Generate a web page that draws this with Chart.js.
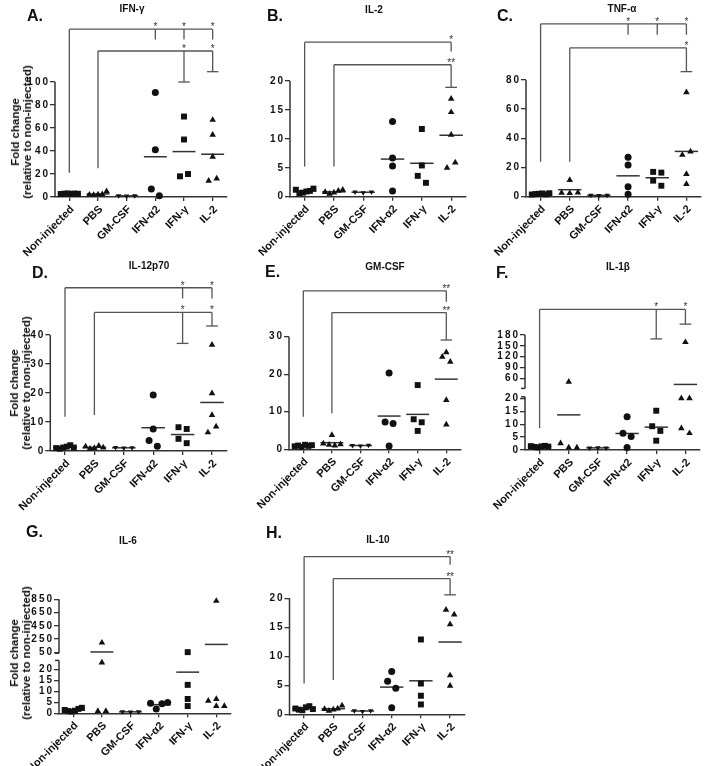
<!DOCTYPE html>
<html>
<head>
<meta charset="utf-8">
<script src="https://cdn.jsdelivr.net/npm/chart.js@4.4.1/dist/chart.umd.min.js"></script>
<style>
    body { margin: 0; width: 717px; height: 766px; position: relative; overflow: hidden; background: #fff;
           font-family: "Liberation Sans", Arial, sans-serif; color: #111; }
    canvas { position: absolute; }
    .letter { position: absolute; font-weight: bold; font-size: 16px; line-height: 16px; }
    .title { position: absolute; font-weight: bold; font-size: 10px; white-space: nowrap; transform: translate(-50%, -50%); }
    .ytitle { position: absolute; font-weight: bold; font-size: 11.5px; line-height: 12px; text-align: center;
              white-space: nowrap; transform: translate(-50%, -50%) rotate(-90deg); }
</style>
</head>
<body>
<script>
"use strict"

var FONT = '"Liberation Sans", Arial, sans-serif';
var X_AXIS_H = 62;

// groups on the x axis (same in every panel)
var groups = ['Non-injected', 'PBS', 'GM-CSF', 'IFN-α2', 'IFN-γ', 'IL-2'];
var markers = ['rect', 'triangle', 'triangleDown', 'circle', 'rect', 'triangle'];
var markerSize = [4.2, 3.8, 3.0, 3.5, 4.2, 3.8];

// A. IFN-γ
var ifngVals = [
    [2.6, 2.9, 3.1, 2.7, 3.0, 2.8],
    [2.0, 1.8, 2.2, 2.4, 5.0],
    [1.0, 0.9, 1.1],
    [91, 41, 7, 1],
    [70, 50, 18, 20],
    [67, 54, 35, 14, 16]
];
var ifngTicks = [0, 20, 40, 60, 80, 100];
var ifngSig = [
    { from: 0, level: 146, foot: 21, arms: [[3, 137, '*'], [4, 137, '*'], [5, 137, '*']] },
    { from: 1, level: 127, foot: 25, cap: true, arms: [[4, 100, '*'], [5, 109, '*']] }
];

// B. IL-2
var il2Vals = [
    [1.2, 0.6, 0.7, 0.9, 1.0, 1.4],
    [0.8, 0.5, 0.7, 1.0, 1.2],
    [0.8, 0.7, 0.8],
    [13.0, 6.7, 5.3, 1.0],
    [11.7, 5.4, 3.6, 2.4],
    [16.9, 14.6, 10.7, 5.0, 5.9]
];
var il2Ticks = [0, 5, 10, 15, 20];
var il2Sig = [
    { from: 0, level: 26.7, foot: 5.2, arms: [[5, 25.1, '*']] },
    { from: 1, level: 22.8, foot: 5.2, cap: true, arms: [[5, 18.9, '**']] }
];

// C. TNF-α
var tnfVals = [
    [1.5, 1.8, 2.0, 2.2, 1.6, 2.4],
    [11.4, 2.6, 2.4, 2.8],
    [1.0, 0.8, 1.0],
    [27, 21.7, 6.9, 1.6],
    [17, 16.5, 11, 7.5],
    [71.5, 28.6, 30.9, 15.5, 8.7]
];
var tnfTicks = [0, 20, 40, 60, 80];
var tnfSig = [
    { from: 0, level: 118.4, foot: 24, arms: [[3, 111, '*'], [4, 111, '*'], [5, 111, '*']] },
    { from: 1, level: 102, foot: 24, cap: true, arms: [[5, 85.7, '*']] }
];

// D. IL-12p70
var il12Vals = [
    [1.0, 0.8, 1.2, 1.5, 2.0, 1.2],
    [1.5, 0.8, 1.0, 1.8, 1.2],
    [1.2, 1.0, 1.1],
    [19.3, 7.6, 3.6, 1.6],
    [8.2, 7.6, 4.2, 2.7],
    [36.6, 19.9, 12.4, 6.4, 8.4]
];
var il12Ticks = [0, 10, 20, 30, 40];
var il12Sig = [
    { from: 0, level: 56.3, foot: 11.8, arms: [[4, 52.6, '*'], [5, 52.6, '*']] },
    { from: 1, level: 47.8, foot: 12.4, cap: true, arms: [[4, 37.1, '*'], [5, 43.1, '*']] }
];

// E. GM-CSF
var gmcsfVals = [
    [0.8, 1.0, 0.6, 1.2, 0.9, 1.1],
    [3.8, 1.5, 1.2, 1.0, 1.3],
    [1.0, 0.9, 1.1],
    [20.3, 7.3, 6.9, 0.9],
    [17.1, 8.0, 7.2, 4.9],
    [25.8, 24.6, 23.3, 13.1, 6.6]
];
var gmcsfTicks = [0, 10, 20, 30];
var gmcsfSig = [
    { from: 0, level: 42.2, foot: 8.7, arms: [[5, 39.3, '**']] },
    { from: 1, level: 36.4, foot: 9.6, cap: true, arms: [[5, 29.1, '**']] }
];

// F. IL-1β (broken axis)
var il1bVals = [
    [1.5, 1.2, 1.0, 1.4, 1.6, 1.3],
    [50, 2.6, 0.9, 0.9],
    [0.8, 0.9, 0.8],
    [12.9, 6.5, 5.2, 1.0],
    [15.2, 9.2, 7.4, 3.6],
    [160, 20, 20, 8.4, 6.5]
];
var il1bTicksLow = [0, 5, 10, 15, 20];
var il1bTicksHigh = [60, 90, 120, 150, 180];
var il1bSig = [
    { from: 0, level: 251, foot: 8.4, cap: true, arms: [[4, 169, '*'], [5, 210, '*']] }
];

// G. IL-6 (broken axis)
var il6Vals = [
    [1.5, 1.0, 0.8, 1.2, 2.0, 2.5],
    [195, 23, 1.0, 1.0],
    [0.7, 0.6, 0.7],
    [4.6, 1.9, 4.3, 4.9],
    [52, 12.9, 6.5, 3.3],
    [825, 5.7, 6.5, 3.3, 3.3]
];
var il6TicksLow = [0, 5, 10, 15, 20];
var il6TicksHigh = [50, 250, 450, 650, 850];

// H. IL-10
var il10Vals = [
    [1.0, 0.8, 0.7, 1.2, 1.4, 0.9],
    [0.9, 0.6, 0.8, 1.0, 1.5],
    [0.6, 0.5, 0.6],
    [7.4, 5.7, 4.5, 1.15],
    [12.9, 5.3, 3.2, 1.7],
    [18.0, 17.2, 15.5, 6.7, 4.9]
];
var il10Ticks = [0, 5, 10, 15, 20];
var il10Sig = [
    { from: 0, level: 27.2, foot: 5.3, arms: [[5, 25.8, '**']] },
    { from: 1, level: 23.4, foot: 5.9, cap: true, arms: [[5, 20.6, '**']] }
];

var yTitle = ['Fold change', '(relative to non-injected)'];

// panel layout: box = canvas [x, y, w, h], area = plot [left, top, right, bottom] in page px
var panels = [
    { letter: 'A.', title: 'IFN-γ', vals: ifngVals, sig: ifngSig,
      y: { min: 0, max: 155, ticks: ifngTicks, line: [0, 100] },
      box: [0, 0, 235, 280], area: [55, 18.8, 227, 197],
      letterAt: [27, 8], titleAt: [132, 8], yTitleAt: [21, 132] },
    { letter: 'B.', title: 'IL-2', vals: il2Vals, sig: il2Sig,
      y: { min: 0, max: 30, ticks: il2Ticks, line: [0, 20] },
      box: [235, 0, 235, 280], area: [290, 23.1, 466, 196.7],
      letterAt: [267, 8], titleAt: [374, 9] },
    { letter: 'C.', title: 'TNF-α', vals: tnfVals, sig: tnfSig,
      y: { min: 0, max: 128, ticks: tnfTicks, line: [0, 80] },
      box: [470, 0, 247, 280], area: [526, 9.9, 701, 196.7],
      letterAt: [497, 8], titleAt: [622, 8] },
    { letter: 'D.', title: 'IL-12p70', vals: il12Vals, sig: il12Sig,
      y: { min: 0, max: 62, ticks: il12Ticks, line: [0, 40] },
      box: [0, 255, 235, 280], area: [50.3, 271.2, 226.7, 451],
      letterAt: [32, 265], titleAt: [149, 265], yTitleAt: [19.5, 383] },
    { letter: 'E.', title: 'GM-CSF', vals: gmcsfVals, sig: gmcsfSig,
      y: { min: 0, max: 47, ticks: gmcsfTicks, line: [0, 30] },
      box: [235, 255, 235, 280], area: [289, 272.8, 460.6, 449.3],
      letterAt: [265, 264], titleAt: [385, 266] },
    { letter: 'F.', title: 'IL-1β', vals: il1bVals, sig: il1bSig,
      y: { min: 0, max: 22.45, ticks: il1bTicksLow, line: [0, 20.6], brk: 20.6 },
      y2: { min: 22, max: 282.4, ticks: il1bTicksHigh, line: [32, 180], brk: 32 },
      weights: [58, 94],
      box: [470, 255, 247, 280], area: [525, 298, 700, 450],
      letterAt: [496, 265], titleAt: [618, 266] },
    { letter: 'G.', title: 'IL-6', vals: il6Vals, sig: [],
      y: { min: 0, max: 26, ticks: il6TicksLow, line: [0, 24], brk: 24 },
      y2: { min: -6, max: 900, ticks: il6TicksHigh, line: [35, 850], brk: 35 },
      weights: [57.3, 60],
      box: [0, 510, 235, 280], area: [59, 596, 230.6, 713.3],
      letterAt: [26, 524], titleAt: [128, 540], yTitleAt: [19.5, 653] },
    { letter: 'H.', title: 'IL-10', vals: il10Vals, sig: il10Sig,
      y: { min: 0, max: 31, ticks: il10Ticks, line: [0, 20] },
      box: [235, 510, 235, 280], area: [289.5, 534.5, 464.7, 714.3],
      letterAt: [266, 525], titleAt: [378, 539] }
];


// y axis line only over the tick range, plus break marks
var axisLinePlugin = {
    id: 'axisLine',
    afterDraw: function(chart, args, opts) {
        var ctx = chart.ctx;
        var x = chart.chartArea.left;
        ctx.save();
        ctx.strokeStyle = '#333';
        ctx.lineWidth = 1.5;
        (opts.parts || []).forEach(function(part) {
            var s = chart.scales[part.axis];
            ctx.beginPath();
            ctx.moveTo(x, s.getPixelForValue(part.line[0]));
            ctx.lineTo(x, s.getPixelForValue(part.line[1]));
            ctx.stroke();
            if (part.brk !== undefined) {
                var yb = s.getPixelForValue(part.brk);
                ctx.beginPath();
                ctx.moveTo(x - 4, yb);
                ctx.lineTo(x, yb);
                ctx.stroke();
            }
        });
        ctx.restore();
    }
};

// significance stars above bracket arms
var starPlugin = {
    id: 'stars',
    afterDatasetsDraw: function(chart, args, opts) {
        var ctx = chart.ctx;
        ctx.save();
        ctx.fillStyle = '#333';
        ctx.font = '10px ' + FONT;
        ctx.textAlign = 'center';
        ctx.textBaseline = 'alphabetic';
        (opts.marks || []).forEach(function(m) {
            var px = chart.scales.x.getPixelForValue(m.x);
            var py = chart.scales[m.axis].getPixelForValue(m.y);
            ctx.fillText(m.text, px, py + 1);
        });
        ctx.restore();
    }
};

// letter spaced y tick numbers
var spacedTicks = {
    id: 'spacedTicks',
    afterLayout: function(chart) {
        Object.keys(chart.scales).forEach(function(id) {
            var s = chart.scales[id];
            if (s.axis !== 'y' || s._spaced) return;
            var draw = s.drawLabels;
            s.drawLabels = function(area) {
                this.ctx.save();
                this.ctx.letterSpacing = '2px';
                draw.call(this, area);
                this.ctx.restore();
            };
            s._spaced = true;
        });
    }
};


function mean(a) {
    return a.reduce(function(s, v) { return s + v; }, 0) / a.length;
}

function line(pairs, axis, color, width) {
    return {
        showLine: true,
        data: pairs.map(function(q) { return { x: q[0], y: q[1] }; }),
        yAxisID: axis,
        borderColor: color || '#555',
        borderWidth: width || 1.3,
        pointRadius: 0,
        clip: false
    };
}

function yAxis(seg, extra) {
    var o = {
        type: 'linear', position: 'left', min: seg.min, max: seg.max,
        afterBuildTicks: function(s) { s.ticks = seg.ticks.map(function(v) { return { value: v }; }); },
        afterFit: function(s) { s.width = 30; s.paddingTop = 0; s.paddingBottom = 0; },
        ticks: { autoSkip: false, padding: 0, color: '#111', font: { family: FONT, size: 10, weight: 'bold' } },
        grid: { drawOnChartArea: false, tickLength: 5, color: '#333', lineWidth: 1.3 },
        border: { display: false }
    };
    return Object.assign(o, extra || {});
}

// spread overlapping points of a group side by side
function spreadPoints(chart, pts) {
    pts.forEach(function(list, g) {
        var items = list.map(function(p, i) {
            return { p: p, i: i, py: chart.scales[p.yAxis].getPixelForValue(p.y) };
        });
        items.sort(function(a, b) { return b.py - a.py; });
        var rows = [];
        items.forEach(function(it) {
            var row = rows[rows.length - 1];
            if (row && Math.abs(row[0].py - it.py) < 7) row.push(it);
            else rows.push([it]);
        });
        rows.forEach(function(row) {
            row.sort(function(a, b) { return a.i - b.i; });
            var step = row.length > 1 ? Math.min(0.28, 0.6 / (row.length - 1)) : 0;
            row.forEach(function(it, k) { it.p.x = g + (k - (row.length - 1) / 2) * step; });
        });
    });
    chart.data.datasets.forEach(function(ds) {
        if (ds.isPoints) ds.data = ds.data.slice();
    });
    chart.update('none');
}

function addText(cls, text, x, y) {
    var d = document.createElement('div');
    d.className = cls;
    d.style.left = x + 'px';
    d.style.top = y + 'px';
    if (Array.isArray(text)) d.innerHTML = text.join('<br>');
    else d.textContent = text;
    document.body.appendChild(d);
}

function buildPanel(p) {
    var canvas = document.createElement('canvas');
    canvas.width = p.box[2];
    canvas.height = p.box[3];
    canvas.style.left = p.box[0] + 'px';
    canvas.style.top = p.box[1] + 'px';
    document.body.appendChild(canvas);

    var split = p.y2 ? p.y.max : Infinity;
    function axisOf(v) { return v > split ? 'y2' : 'y'; }

    var datasets = [];
    var marks = [];

    // vertical leg that may cross the axis break
    function leg(x, top, bottom) {
        if (axisOf(top) === axisOf(bottom)) {
            datasets.push(line([[x, top], [x, bottom]], axisOf(top)));
        } else {
            datasets.push(line([[x, top], [x, p.y2.min]], 'y2'));
            datasets.push(line([[x, p.y.max], [x, bottom]], 'y'));
        }
    }

    var pts = p.vals.map(function(vals, g) {
        return vals.map(function(v) { return { x: g, y: v, yAxis: axisOf(v) }; });
    });

    pts.forEach(function(list, g) {
        ['y', 'y2'].forEach(function(ax) {
            var sub = list.filter(function(q) { return q.yAxis === ax; });
            if (!sub.length) return;
            datasets.push({
                isPoints: true,
                data: sub,
                yAxisID: ax,
                pointStyle: markers[g] === 'triangleDown' ? 'triangle' : markers[g],
                rotation: markers[g] === 'triangleDown' ? 180 : 0,
                pointRadius: markerSize[g],
                backgroundColor: '#111',
                borderColor: '#111',
                borderWidth: 0,
                clip: false
            });
        });
        var m = mean(p.vals[g]);
        datasets.push(line([[g - 0.4, m], [g + 0.4, m]], axisOf(m), '#333', 1.5));
    });

    p.sig.forEach(function(b) {
        var last = Math.max.apply(null, b.arms.map(function(a) { return a[0]; }));
        datasets.push(line([[b.from, b.level], [last, b.level]], axisOf(b.level)));
        leg(b.from, b.level, b.foot);
        b.arms.forEach(function(a) {
            leg(a[0], b.level, a[1]);
            if (b.cap) datasets.push(line([[a[0] - 0.2, a[1]], [a[0] + 0.2, a[1]]], axisOf(a[1])));
            marks.push({ x: a[0], y: b.level, axis: axisOf(b.level), text: a[2] });
        });
    });

    var scales = {
        x: {
            type: 'linear', min: -0.5, max: 5.5,
            afterBuildTicks: function(s) { s.ticks = groups.map(function(g, i) { return { value: i }; }); },
            afterFit: function(s) { s.height = X_AXIS_H; s.paddingLeft = 0; s.paddingRight = 0; },
            ticks: {
                autoSkip: false, minRotation: 45, maxRotation: 45, padding: 2, labelOffset: 3, color: '#111',
                font: { family: FONT, size: 11, weight: 'bold' },
                callback: function(v) { return groups[v]; }
            },
            grid: { drawOnChartArea: false, drawTicks: true, tickLength: 4, color: '#333', lineWidth: 1.3 },
            border: { display: true, color: '#333', width: 1.5 }
        }
    };
    var parts = [{ axis: 'y', line: p.y.line, brk: p.y.brk }];
    if (p.y2) {
        scales.y = yAxis(p.y, { stack: 'brk', stackWeight: p.weights[0] });
        scales.y2 = yAxis(p.y2, { stack: 'brk', stackWeight: p.weights[1] });
        parts.push({ axis: 'y2', line: p.y2.line, brk: p.y2.brk });
    } else {
        scales.y = yAxis(p.y);
    }

    var a = p.area;
    var chart = new Chart(canvas, {
        type: 'scatter',
        data: { datasets: datasets },
        options: {
            responsive: false,
            animation: false,
            events: [],
            layout: {
                padding: {
                    left: a[0] - p.box[0] - 30,
                    top: a[1] - p.box[1],
                    right: p.box[0] + p.box[2] - a[2],
                    bottom: p.box[1] + p.box[3] - a[3] - X_AXIS_H
                }
            },
            plugins: {
                legend: { display: false },
                tooltip: { enabled: false },
                axisLine: { parts: parts },
                stars: { marks: marks }
            },
            scales: scales
        },
        plugins: [axisLinePlugin, starPlugin, spacedTicks]
    });
    spreadPoints(chart, pts);

    addText('letter', p.letter, p.letterAt[0], p.letterAt[1]);
    addText('title', p.title, p.titleAt[0], p.titleAt[1]);
    if (p.yTitleAt) addText('ytitle', yTitle, p.yTitleAt[0], p.yTitleAt[1]);
}

panels.forEach(buildPanel);
</script>
</body>
</html>
